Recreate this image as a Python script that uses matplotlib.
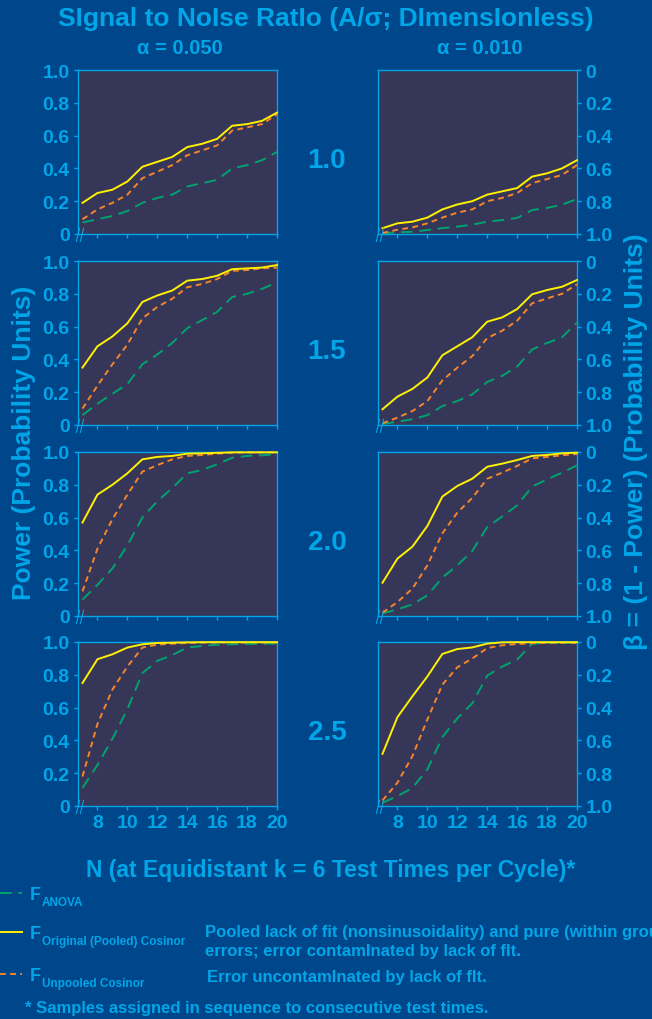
import matplotlib
matplotlib.use('Agg')
import matplotlib.pyplot as plt

# Sample size N (k = 6 test times per cycle)
n_values = [7, 8, 9, 10, 11, 12, 13, 14, 15, 16, 17, 18, 19, 20]
snr_labels = ['1.0', '1.5', '2.0', '2.5']
alpha_labels = ['\u03b1 = 0.050', '\u03b1 = 0.010']

# Power curves, alpha = 0.050 (left column)
pooled_05_s10 = [0.19, 0.25, 0.27, 0.32, 0.41, 0.44, 0.47, 0.53, 0.55, 0.58, 0.66, 0.67, 0.69, 0.74]
unpooled_05_s10 = [0.09, 0.15, 0.19, 0.24, 0.34, 0.38, 0.42, 0.48, 0.51, 0.54, 0.63, 0.65, 0.67, 0.73]
anova_05_s10 = [0.07, 0.09, 0.11, 0.14, 0.19, 0.22, 0.24, 0.29, 0.31, 0.33, 0.40, 0.42, 0.45, 0.50]

pooled_05_s15 = [0.35, 0.48, 0.54, 0.62, 0.75, 0.79, 0.82, 0.88, 0.89, 0.91, 0.95, 0.955, 0.96, 0.975]
unpooled_05_s15 = [0.10, 0.24, 0.37, 0.49, 0.65, 0.72, 0.77, 0.84, 0.86, 0.89, 0.94, 0.945, 0.955, 0.96]
anova_05_s15 = [0.06, 0.13, 0.19, 0.25, 0.37, 0.43, 0.50, 0.59, 0.64, 0.69, 0.78, 0.80, 0.83, 0.87]

pooled_05_s20 = [0.57, 0.74, 0.80, 0.87, 0.955, 0.97, 0.976, 0.99, 0.992, 0.995, 0.998, 0.998, 0.998, 0.998]
unpooled_05_s20 = [0.15, 0.41, 0.59, 0.74, 0.88, 0.92, 0.955, 0.976, 0.982, 0.99, 0.996, 0.998, 0.998, 0.998]
anova_05_s20 = [0.10, 0.19, 0.29, 0.43, 0.60, 0.70, 0.78, 0.87, 0.89, 0.925, 0.965, 0.976, 0.98, 0.986]

pooled_05_s25 = [0.75, 0.895, 0.925, 0.966, 0.986, 0.994, 0.996, 0.998, 0.999, 0.999, 0.999, 0.999, 0.999, 0.999]
unpooled_05_s25 = [0.18, 0.50, 0.71, 0.85, 0.966, 0.984, 0.99, 0.994, 0.996, 0.997, 0.997, 0.997, 0.997, 0.997]
anova_05_s25 = [0.11, 0.25, 0.41, 0.59, 0.81, 0.885, 0.92, 0.966, 0.976, 0.984, 0.986, 0.988, 0.99, 0.99]

# Power curves, alpha = 0.010 (right column)
pooled_01_s10 = [0.035, 0.065, 0.075, 0.10, 0.15, 0.18, 0.20, 0.24, 0.26, 0.28, 0.35, 0.37, 0.40, 0.45]
unpooled_01_s10 = [0.006, 0.026, 0.04, 0.065, 0.10, 0.13, 0.15, 0.20, 0.22, 0.25, 0.31, 0.335, 0.36, 0.42]
anova_01_s10 = [0.005, 0.01, 0.014, 0.024, 0.036, 0.045, 0.057, 0.075, 0.085, 0.098, 0.146, 0.159, 0.179, 0.213]

pooled_01_s15 = [0.096, 0.173, 0.22, 0.29, 0.425, 0.48, 0.535, 0.63, 0.656, 0.707, 0.797, 0.823, 0.843, 0.884]
unpooled_01_s15 = [0.01, 0.045, 0.085, 0.146, 0.272, 0.35, 0.42, 0.53, 0.575, 0.636, 0.742, 0.772, 0.80, 0.858]
anova_01_s15 = [0.006, 0.02, 0.035, 0.06, 0.115, 0.146, 0.187, 0.262, 0.30, 0.356, 0.46, 0.50, 0.535, 0.624]

pooled_01_s20 = [0.203, 0.35, 0.423, 0.549, 0.728, 0.793, 0.837, 0.91, 0.929, 0.951, 0.976, 0.982, 0.992, 0.996]
unpooled_01_s20 = [0.02, 0.085, 0.167, 0.309, 0.504, 0.63, 0.72, 0.837, 0.874, 0.915, 0.961, 0.97, 0.98, 0.988]
anova_01_s20 = [0.016, 0.04, 0.071, 0.126, 0.234, 0.309, 0.396, 0.543, 0.606, 0.675, 0.789, 0.833, 0.874, 0.919]

pooled_01_s25 = [0.318, 0.542, 0.669, 0.79, 0.927, 0.957, 0.967, 0.99, 0.998, 0.999, 0.999, 0.999, 0.999, 0.999]
unpooled_01_s25 = [0.034, 0.142, 0.304, 0.527, 0.74, 0.846, 0.899, 0.963, 0.98, 0.988, 0.993, 0.995, 0.995, 0.995]
anova_01_s25 = [0.02, 0.06, 0.11, 0.223, 0.42, 0.535, 0.626, 0.795, 0.85, 0.893, 0.99, 0.994, 0.994, 0.994]

power_ticks = [0, 0.2, 0.4, 0.6, 0.8, 1.0]
power_labels = ['0', '0.2', '0.4', '0.6', '0.8', '1.0']
beta_labels = ['1.0', '0.8', '0.6', '0.4', '0.2', '0']
x_ticks = [8, 10, 12, 14, 16, 18, 20]

# Colours
BG = '#00468a'
FACE = '#363659'
CYAN = '#00a6e8'
YELLOW = '#fff200'
ORANGE = '#f7862a'
GREEN = '#00a36e'

plt.rcParams['font.family'] = ['Liberation Sans', 'DejaVu Sans']
plt.rcParams['font.weight'] = 'bold'

fig = plt.figure(figsize=(6.52, 10.2), dpi=100, facecolor=BG)
W, H = 652.0, 1020.0

col_left = [78, 378]
col_width = 199
row_top = [71, 262, 453, 643]
row_height = 164

panels = [
    [(pooled_05_s10, unpooled_05_s10, anova_05_s10), (pooled_01_s10, unpooled_01_s10, anova_01_s10)],
    [(pooled_05_s15, unpooled_05_s15, anova_05_s15), (pooled_01_s15, unpooled_01_s15, anova_01_s15)],
    [(pooled_05_s20, unpooled_05_s20, anova_05_s20), (pooled_01_s20, unpooled_01_s20, anova_01_s20)],
    [(pooled_05_s25, unpooled_05_s25, anova_05_s25), (pooled_01_s25, unpooled_01_s25, anova_01_s25)],
]

for r in range(4):
    for c in range(2):
        rect = [col_left[c] / W, 1 - (row_top[r] + row_height) / H, col_width / W, row_height / H]
        ax = fig.add_axes(rect)
        ax.set_facecolor(FACE)
        pooled, unpooled, anova = panels[r][c]
        ax.plot(n_values, anova, color=GREEN, lw=1.4, dashes=(6, 3.5), clip_on=False, zorder=3)
        ax.plot(n_values, unpooled, color=ORANGE, lw=1.4, dashes=(3, 2.2), clip_on=False, zorder=4)
        ax.plot(n_values, pooled, color=YELLOW, lw=1.4, clip_on=False, zorder=5)
        ax.set_xlim(6.7, 20)
        ax.set_ylim(0, 1)
        for s in ax.spines.values():
            s.set_color(CYAN)
            s.set_linewidth(1.0)
        ax.set_xticks(x_ticks)
        ax.set_yticks(power_ticks)
        if c == 0:
            ax.set_yticklabels(power_labels)
        else:
            ax.yaxis.tick_right()
            ax.set_yticklabels(beta_labels)
        if r == 3:
            ax.set_xticklabels([str(t) for t in x_ticks])
        else:
            ax.set_xticklabels([])
        ax.tick_params(colors=CYAN, labelsize=14, length=3, width=1, direction='out', pad=3)
        for lab in ax.get_xticklabels() + ax.get_yticklabels():
            lab.set_fontweight('bold')
        # axis break marks
        for off in (0.0, 0.02):
            ax.plot([-0.008 + off, 0.008 + off], [-0.045, 0.035], color=CYAN, lw=0.8,
                    transform=ax.transAxes, clip_on=False, zorder=6)

    # signal to noise label for the row
    fig.text(327 / W, 1 - (row_top[r] + row_height / 2 + 8) / H, snr_labels[r], color=CYAN,
             fontsize=20, fontweight='bold', ha='center', va='center')

# Titles
fig.text(326 / W, 1 - 19 / H, 'SIgnal to NoIse RatIo (A/\u03c3; DImensIonless)', color=CYAN,
         fontsize=19, fontweight='bold', ha='center', va='center')
for c in range(2):
    fig.text((col_left[c] + col_width / 2 + 2) / W, 1 - 48 / H, alpha_labels[c], color=CYAN,
             fontsize=14.5, fontweight='bold', ha='center', va='center')

# Axis labels
fig.text(24 / W, 1 - 443 / H, 'Power (Probability Units)', color=CYAN, fontsize=19,
         fontweight='bold', rotation=90, ha='center', va='center')
fig.text(636 / W, 1 - 442 / H, '\u03b2 = (1 - Power) (Probability Units)', color=CYAN, fontsize=19,
         fontweight='bold', rotation=90, ha='center', va='center')
fig.text(331 / W, 1 - 871 / H, 'N (at Equidistant k = 6 Test Times per Cycle)*', color=CYAN,
         fontsize=16.5, fontweight='bold', ha='center', va='center')

# Legend
leg_rows = [
    (894, GREEN, (6, 3.5), 'ANOVA'),
    (933, YELLOW, None, 'Original (Pooled) Cosinor'),
    (975, ORANGE, (3, 2.2), 'Unpooled Cosinor'),
]
for y, col, dash, sub in leg_rows:
    line = plt.Line2D([0, 22 / W], [1 - y / H, 1 - y / H], color=col, lw=1.4, transform=fig.transFigure)
    if dash is not None:
        line.set_dashes(dash)
    fig.add_artist(line)
    fig.text(30 / W, 1 - (y + 2) / H, 'F', color=CYAN, fontsize=13, fontweight='bold',
             ha='left', va='center')
    fig.text(42 / W, 1 - (y + 9) / H, sub, color=CYAN, fontsize=8.5, fontweight='bold',
             ha='left', va='center')

fig.text(205 / W, 1 - 933 / H, 'Pooled lack of fit (nonsinusoidality) and pure (within groups)',
         color=CYAN, fontsize=12, fontweight='bold', ha='left', va='center')
fig.text(205 / W, 1 - 952 / H, 'errors; error contamInated by lack of fIt.',
         color=CYAN, fontsize=12, fontweight='bold', ha='left', va='center')
fig.text(207 / W, 1 - 978 / H, 'Error uncontamInated by lack of fIt.',
         color=CYAN, fontsize=12, fontweight='bold', ha='left', va='center')
fig.text(25 / W, 1 - 1009 / H, '* Samples assigned in sequence to consecutive test times.',
         color=CYAN, fontsize=12, fontweight='bold', ha='left', va='center')

plt.savefig('out.png', dpi=100, facecolor=BG)
